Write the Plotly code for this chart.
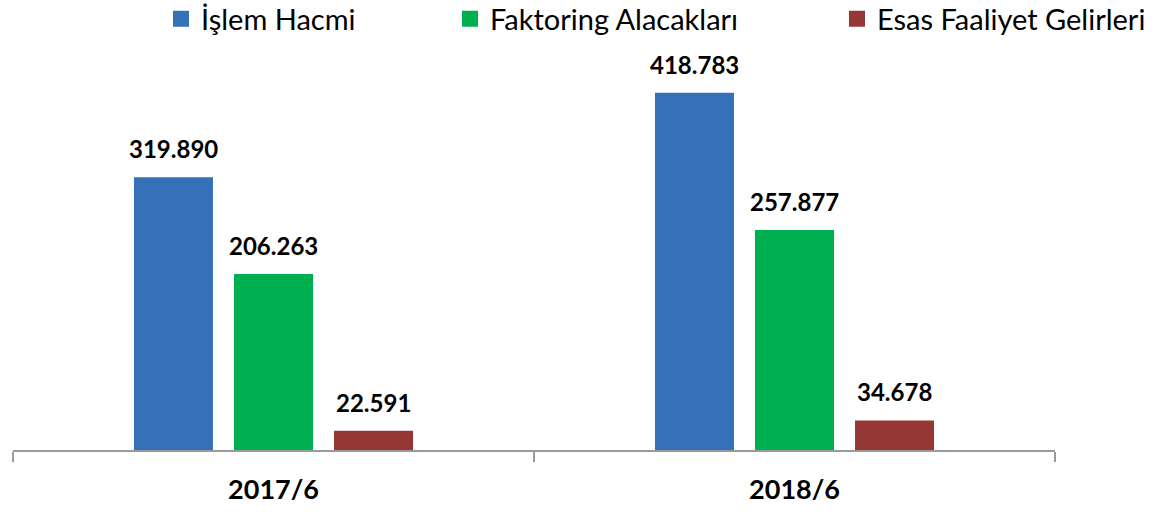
import plotly.graph_objects as go

# Dönemler ve seriler (bin TL)
donemler = ["2017/6", "2018/6"]
islem_hacmi = [319890, 418783]
faktoring_alacaklari = [206263, 257877]
esas_faaliyet_gelirleri = [22591, 34678]

seriler = [
    ("İşlem Hacmi", islem_hacmi, "#3570B8", "legend", 161),
    ("Faktoring Alacakları", faktoring_alacaklari, "#00B050", "legend2", 450),
    ("Esas Faaliyet Gelirleri", esas_faaliyet_gelirleri, "#953735", "legend3", 837),
]

W, H = 1155, 512
yazi = "Lato"

fig = go.Figure()
for ad, degerler, renk, lg, _ in seriler:
    fig.add_trace(go.Bar(
        x=donemler, y=degerler, name=ad, showlegend=False,
        marker=dict(color=renk, line=dict(width=0)),
    ))
    # lejant için kare işaret
    fig.add_trace(go.Scatter(
        x=[None], y=[None], mode="markers", name=ad, legend=lg,
        marker=dict(symbol="square", size=16, color=renk, line=dict(width=0)),
    ))

# Değer etiketleri barların üstünde
kaydirma = [-100, 0, 100]
for i, (ad, degerler, renk, lg, _) in enumerate(seriler):
    for d, v in zip(donemler, degerler):
        fig.add_annotation(
            x=d, y=v, xref="x", yref="y",
            text="<b>" + f"{v:,}".replace(",", ".") + "</b>",
            showarrow=False, xshift=kaydirma[i], yshift=12, yanchor="bottom",
            font=dict(family=yazi, size=24, color="black"),
        )

lejantlar = {}
for ad, degerler, renk, lg, xpos in seriler:
    lejantlar[lg] = dict(
        orientation="h", xref="container", yref="container",
        x=xpos / W, xanchor="left", y=1 - 19 / H, yanchor="middle",
        font=dict(family=yazi, size=29, color="black"),
        bgcolor="rgba(0,0,0,0)",
    )

fig.update_layout(
    width=W, height=H,
    margin=dict(l=13, r=100, t=60, b=62),
    paper_bgcolor="white", plot_bgcolor="white",
    barmode="group", bargap=0.424, bargroupgap=0.21,
    separators=",.",
    showlegend=True,
    **lejantlar,
    xaxis=dict(
        showline=True, linecolor="#9a9a9a", linewidth=1.5,
        ticks="outside", tickson="boundaries", ticklen=10, tickcolor="#9a9a9a", tickwidth=1.5,
        tickfont=dict(family=yazi, size=27, color="black", weight="bold"),
        ticklabelstandoff=15, showgrid=False, automargin=False,
    ),
    yaxis=dict(visible=False, range=[0, 457200], showgrid=False, automargin=False),
)

# sayfa kenar boşluğunu kaldır
fig.write_html("out.html", config={"displayModeBar": False},
               post_script="document.body.style.margin='0';")
